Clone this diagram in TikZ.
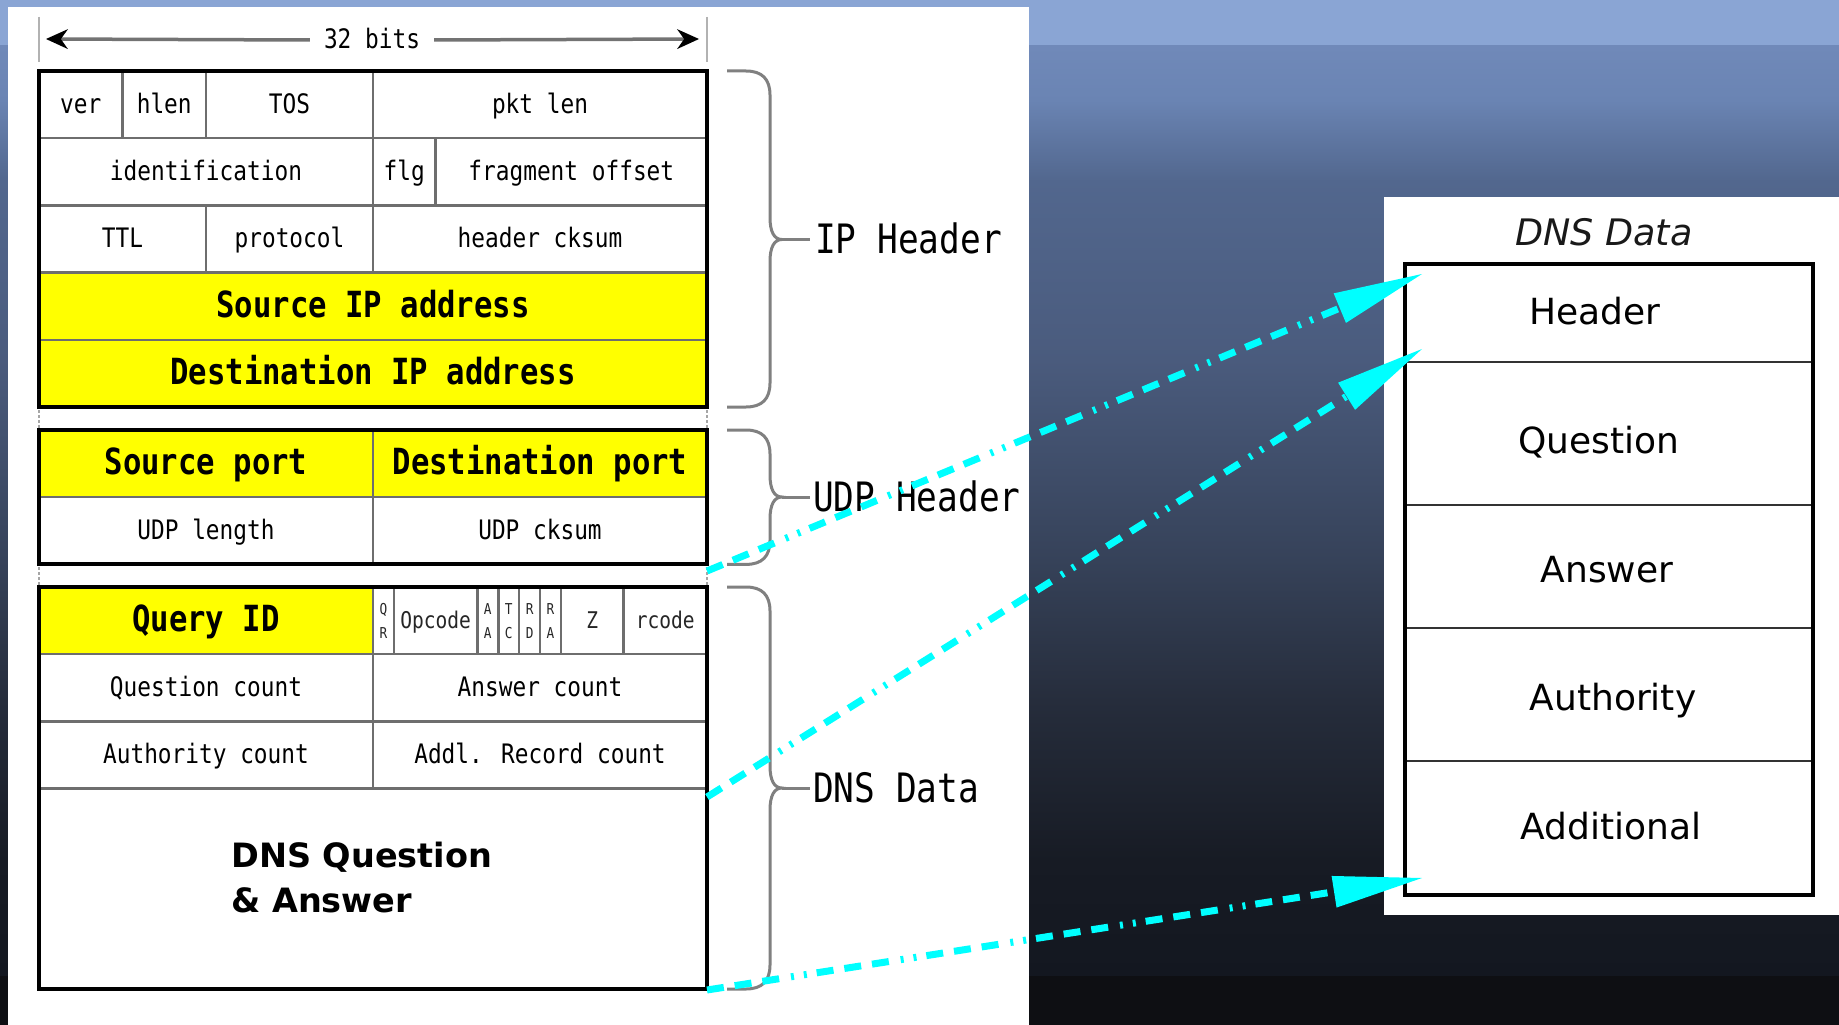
\documentclass[tikz,border=0pt]{standalone}
\usepackage{fontspec}
\usetikzlibrary{arrows.meta}

\newfontfamily\pkfont[FakeStretch=0.85]{DejaVu Sans Mono}
\newfontfamily\dvfont{DejaVu Sans}

% backdrop bands
\definecolor{bgA}{HTML}{8AA5D4}
\definecolor{bgB}{HTML}{7089B9}
\definecolor{bgC}{HTML}{6A84B3}
\definecolor{bgD}{HTML}{52678E}
\definecolor{bgE}{HTML}{4A5B7D}
\definecolor{bgF}{HTML}{364259}
\definecolor{bgG}{HTML}{262D3C}
\definecolor{bgH}{HTML}{171B24}
\definecolor{bgI}{HTML}{131720}
\definecolor{bgJ}{HTML}{0E0F13}
% diagram colours
\definecolor{fieldyellow}{RGB}{255,255,0}
\definecolor{gridgray}{HTML}{6E6E6E}
\definecolor{bracegray}{HTML}{808080}
\definecolor{linkcyan}{RGB}{0,255,255}

\begin{document}
\begin{tikzpicture}[x=1pt,y=-1pt,
  pktext/.style={font=\pkfont\fontsize{26.8}{30}\selectfont, text=black, inner sep=0pt, text height=17.2pt, text depth=0pt},
  pkbold/.style={font=\pkfont\bfseries\fontsize{36}{40}\selectfont, text=black, inner sep=0pt, text height=22.2pt, text depth=0pt},
  pkflag/.style={font=\pkfont\fontsize{23}{25}\selectfont, text=black!85, inner sep=0pt, text height=15pt, text depth=0pt},
  pktiny/.style={font=\pkfont\fontsize{15}{16}\selectfont, text=black!85, inner sep=0pt, text height=10.9pt, text depth=0pt},
  seglabel/.style={font=\pkfont\fontsize{40.5}{44}\selectfont, text=black, anchor=west, inner sep=0pt, text height=23.4pt, text depth=0pt},
  qatext/.style={font=\dvfont\bfseries\fontsize{33.5}{38}\selectfont, text=black, anchor=base west, inner sep=0pt},
  ddtext/.style={font=\dvfont\fontsize{36}{40}\selectfont, text=black, inner sep=0pt, text height=26.2pt, text depth=0pt},
  ddtitle/.style={font=\dvfont\itshape\fontsize{36.5}{40}\selectfont, text=black!90, inner sep=0pt, text height=26.6pt, text depth=0pt},
  gridline/.style={draw=gridgray, line width=2.5pt},
  frame/.style={draw=black, line width=4pt},
  ddgrid/.style={draw=black!80, line width=2pt},
  ddframe/.style={draw=black, line width=3.5pt},
  brace/.style={draw=bracegray, line width=3pt},
  tickline/.style={draw=black!30, line width=2.5pt},
  gapline/.style={draw=black!35, line width=2.5pt, dash pattern=on 3pt off 2pt},
  dimarrow/.style={draw=black!55, line width=3.5pt, -{Stealth[length=22pt,width=20pt,line width'=0pt,color=black]}},
  link/.style={draw=linkcyan, line width=7pt,
    dash pattern=on 17pt off 11pt on 17pt off 11pt on 17pt off 12pt on 3pt off 10pt on 3pt off 10pt,
    -{Triangle[length=89pt,width=32pt,line width'=0pt]}}
]
\useasboundingbox (0,0) rectangle (1839,1025);

% ---- banded backdrop ----
\fill[bgA] (0,0) rectangle (1839,47);
\shade[top color=bgB, bottom color=bgC] (0,46) rectangle (1839,101);
\shade[top color=bgC, bottom color=bgD] (0,100) rectangle (1839,181);
\shade[top color=bgD, bottom color=bgE] (0,180) rectangle (1839,361);
\shade[top color=bgE, bottom color=bgF] (0,360) rectangle (1839,561);
\shade[top color=bgF, bottom color=bgG] (0,560) rectangle (1839,701);
\shade[top color=bgG, bottom color=bgH] (0,700) rectangle (1839,861);
\shade[top color=bgH, bottom color=bgI] (0,860) rectangle (1839,977);
\fill[bgJ] (0,976) rectangle (1839,1025);

% ---- white panels ----
\fill[white] (8,7) rectangle (1029,1025);
\fill[white] (1384,197) rectangle (1839,915);

% ---- width marker ----
\draw[tickline] (39,17) -- (39,62);
\draw[tickline] (707,17) -- (707,62);
\node[pktext] (bits) at (372,40) {32 bits};
\coordinate (bitsL) at (46,39);
\coordinate (bitsR) at (699,39);
\draw[dimarrow] ([xshift=-14pt]bits.west) -- (bitsL);
\draw[dimarrow] ([xshift=14pt]bits.east) -- (bitsR);

% ---- yellow fields ----
\fill[fieldyellow] (39,272.6) rectangle (707,407);
\fill[fieldyellow] (39,430) rectangle (707,497.2);
\fill[fieldyellow] (39,587) rectangle (373,654.2);

% ---- IP header grid (one bit = 20.875) ----
\foreach \y in {138.2,205.4,272.6,339.8} \draw[gridline] (39,\y) -- (707,\y);
\foreach \x in {122.5,206,373} \draw[gridline] (\x,71) -- (\x,138.2);
\foreach \x in {373,435.6} \draw[gridline] (\x,138.2) -- (\x,205.4);
\foreach \x in {206,373} \draw[gridline] (\x,205.4) -- (\x,272.6);
% ---- UDP header grid ----
\draw[gridline] (39,497.2) -- (707,497.2);
\draw[gridline] (373,430) -- (373,564.4);
% ---- DNS header grid ----
\foreach \y in {654.2,721.4,788.6} \draw[gridline] (39,\y) -- (707,\y);
\draw[gridline] (373,587) -- (373,788.6);
\foreach \x in {393.9,477.4,498.3,519.1,540,560.9,623.5} \draw[gridline] (\x,587) -- (\x,654.2);

% ---- outer frames ----
\draw[frame] (39,71) rectangle (707,407);
\draw[frame] (39,430) rectangle (707,564.4);
\draw[frame] (39,587) rectangle (707,989);
\foreach \x in {39,707} {
  \draw[gapline] (\x,410) -- (\x,428);
  \draw[gapline] (\x,567) -- (\x,585);
}

% ---- IP header fields ----
\node[pktext] (ver) at (80.75,104.6) {ver};
\node[pktext] (hlen) at (164.25,104.6) {hlen};
\node[pktext] (tos) at (289.5,104.6) {TOS};
\node[pktext] (pktlen) at (540,104.6) {pkt len};
\node[pktext] (ident) at (206,171.8) {identification};
\node[pktext] (flg) at (404.3,171.8) {flg};
\node[pktext] (frag) at (571.3,171.8) {fragment offset};
\node[pktext] (ttl) at (122.5,239) {TTL};
\node[pktext] (proto) at (289.5,239) {protocol};
\node[pktext] (hcks) at (540,239) {header cksum};
\node[pkbold] (srcip) at (373,306.2) {Source IP address};
\node[pkbold] (dstip) at (373,373.4) {Destination IP address};

% ---- UDP header fields ----
\node[pkbold] (sport) at (206,463.6) {Source port};
\node[pkbold] (dport) at (540,463.6) {Destination port};
\node[pktext] (ulen) at (206,530.8) {UDP length};
\node[pktext] (ucks) at (540,530.8) {UDP cksum};

% ---- DNS header fields ----
\node[pkbold] (qid) at (206,620.6) {Query ID};
\node[pktiny] (qrA) at (383.4,608.6) {Q};
\node[pktiny] (qrB) at (383.4,632.6) {R};
\node[pkflag] (opc) at (435.6,620.6) {Opcode};
\node[pktiny] (aaA) at (487.8,608.6) {A};
\node[pktiny] (aaB) at (487.8,632.6) {A};
\node[pktiny] (tcA) at (508.7,608.6) {T};
\node[pktiny] (tcB) at (508.7,632.6) {C};
\node[pktiny] (rdA) at (529.6,608.6) {R};
\node[pktiny] (rdB) at (529.6,632.6) {D};
\node[pktiny] (raA) at (550.4,608.6) {R};
\node[pktiny] (raB) at (550.4,632.6) {A};
\node[pkflag] (zfld) at (592.2,620.6) {Z};
\node[pkflag] (rcode) at (665.2,620.6) {rcode};
\node[pktext] (qcnt) at (206,687.8) {Question count};
\node[pktext] (acnt) at (540,687.8) {Answer count};
\node[pktext] (nscnt) at (206,755) {Authority count};
\node[pktext] (arcnt) at (540,755) {Addl. Record count};
\node[qatext] (qa1) at (231,867) {DNS Question};
\node[qatext] (qa2) at (231,912) {\& Answer};

% ---- braces: top, bottom, tip ----
\newcommand\segbrace[4]{%
  \draw[brace] (727,#1) -- (746,#1) .. controls (762,#1) and (770,#1+8) .. (770,#1+24)
    -- (770,#3-22) .. controls (770,#3-8) and (774,#3) .. (782,#3)
    .. controls (774,#3) and (770,#3+8) .. (770,#3+22)
    -- (770,#2-24) .. controls (770,#2-8) and (762,#2) .. (746,#2) -- (727,#2);
  \coordinate (#4) at (782,#3);
  \draw[brace] (#4) -- ++(28,0);}
\segbrace{71}{407}{239.5}{iptip}
\segbrace{430}{564.4}{497}{udptip}
\segbrace{587}{989}{788}{dnstip}
\node[seglabel] (iplbl) at (815,242) {IP Header};
\node[seglabel] (udplbl) at (813,500) {UDP Header};
\node[seglabel] (dnslbl) at (813,790.5) {DNS Data};

% ---- DNS data layout panel ----
\node[ddtitle] (ddhead) at (1604,232) {DNS Data};
\foreach \y in {362,505,628,761} \draw[ddgrid] (1405,\y) -- (1813,\y);
\draw[ddframe] (1405,264) rectangle (1813,895);
\node[ddtext] (secH) at (1595,311) {Header};
\node[ddtext] (secQ) at (1599,440) {Question};
\node[ddtext] (secA) at (1607,569) {Answer};
\node[ddtext] (secN) at (1613,697) {Authority};
\node[ddtext] (secR) at (1611,826) {Additional};

% ---- links from the packet to the sections ----
\coordinate (fromUdp) at (707,571);
\coordinate (fromCnt) at (707,797);
\coordinate (fromBody) at (707,990);
\coordinate (toHeader) at (1422,274);
\coordinate (toQuestion) at (1422,349);
\coordinate (toAdditional) at (1422,878);
\draw[link] (fromUdp) -- (toHeader);
\draw[link] (fromCnt) -- (toQuestion);
\draw[link] (fromBody) -- (toAdditional);
\end{tikzpicture}
\end{document}
